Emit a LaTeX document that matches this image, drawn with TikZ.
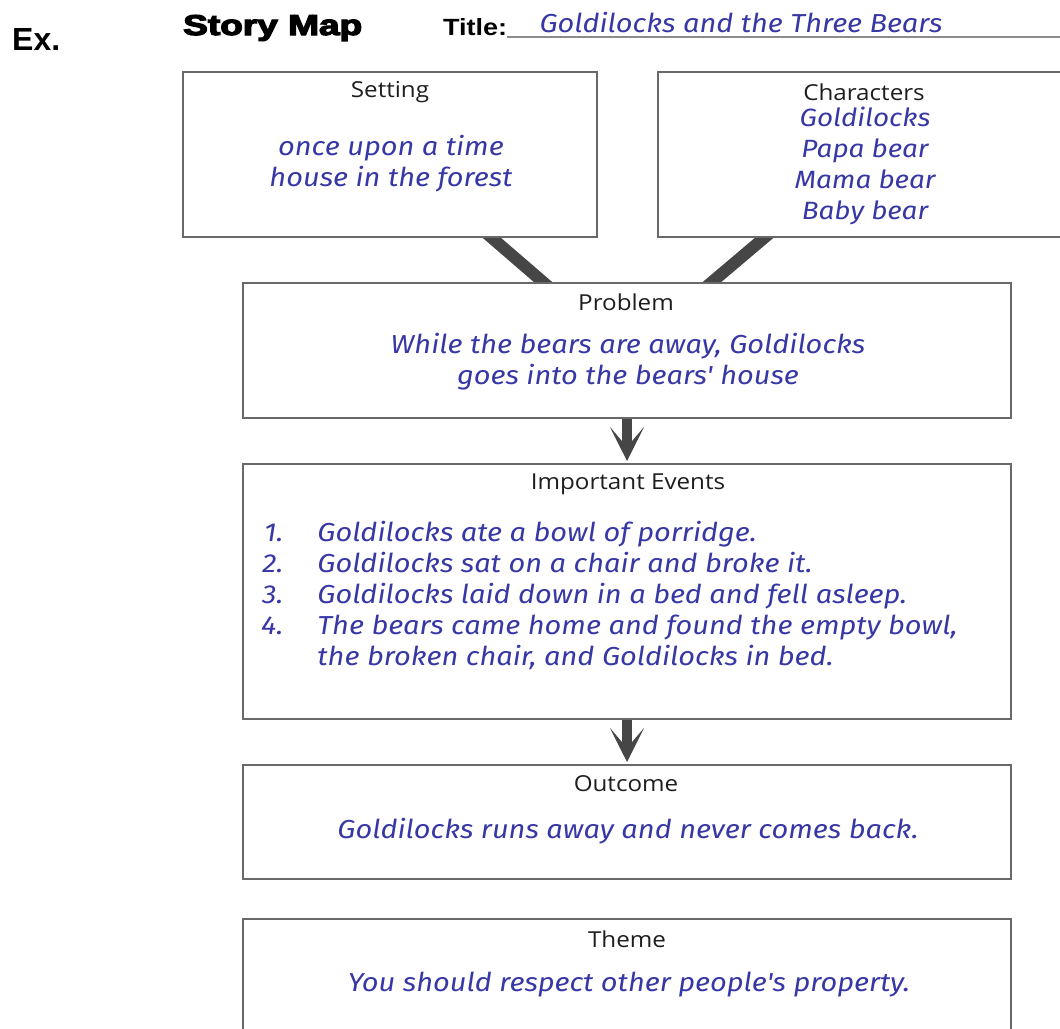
\documentclass[tikz,border=0pt]{standalone}
\usepackage{fontspec}
\usepackage{graphicx}
\setmainfont{Open Sans}
\newfontfamily\labfont{Open Sans}[FakeStretch=1.1]
\newfontfamily\handfont{Fira Sans}[FakeStretch=1.115]
\newfontfamily\arialfont{Liberation Sans}
\newfontfamily\heavyfont{Liberation Sans}[BoldFeatures={FakeBold=4}]
\usetikzlibrary{arrows.meta,calc}
\definecolor{boxline}{RGB}{105,105,105}
\definecolor{conncol}{RGB}{70,70,70}
\definecolor{handblue}{RGB}{55,55,165}
\definecolor{labelc}{RGB}{30,30,30}
\definecolor{ruleline}{RGB}{140,140,140}
\pgfdeclarelayer{bg}
\pgfsetlayers{bg,main}
\begin{document}
\begin{tikzpicture}[x=1pt,y=-1pt,
  box/.style={draw=boxline, line width=2pt, fill=white, rectangle, anchor=north west, inner sep=0pt},
  lab/.style={text=labelc, font=\labfont\fontsize{22}{26}\selectfont, inner sep=0pt},
  hand/.style={text=handblue, font=\handfont\itshape\fontsize{26}{31}\selectfont, align=center, inner sep=0pt},
  conn/.style={draw=conncol, line width=12pt},
  flow/.style={draw=conncol, line width=10pt, -{Stealth[length=34pt,width=34pt,inset=20pt]}, shorten >=2pt}]
\clip (0,0) rectangle (1060,1028);
\useasboundingbox (0,0) rectangle (1060,1028);
\begin{pgfonlayer}{bg}
\fill[white] (0,0) rectangle (1060,1028);
\end{pgfonlayer}

% header
\node[anchor=base west, inner sep=0pt] (ex) at (12,50) {\resizebox{48pt}{22pt}{\arialfont\bfseries Ex.}};
\node[anchor=base west, inner sep=0pt] (smap) at (183,35) {\resizebox{179pt}{20pt}{\heavyfont\bfseries Story Map}};
\node[anchor=base west, inner sep=0pt] (ttl) at (443,35) {\resizebox{64pt}{17pt}{\arialfont\bfseries Title:}};
\coordinate (ruleend) at (1060,37);
\draw[ruleline, line width=2.5pt] (ttl.base east |- ruleend) -- (ruleend);
\node[hand, anchor=base] (ttext) at (741,32) {Goldilocks and the Three Bears};

% boxes
\node[box, minimum width=414pt, minimum height=165pt] (setting) at (182,71) {};
\node[box, minimum width=420pt, minimum height=165pt] (characters) at (657,71) {};
\node[box, minimum width=768pt, minimum height=135pt] (problem) at (242,282) {};
\node[box, minimum width=768pt, minimum height=255pt] (events) at (242,463) {};
\node[box, minimum width=768pt, minimum height=114pt] (outcome) at (242,764) {};
\node[box, minimum width=768pt, minimum height=140pt] (theme) at (242,918) {};

% connectors
\coordinate (s1) at ([xshift=102pt]setting.south);
\coordinate (p1) at ([xshift=-84pt]problem.north);
\coordinate (c1) at ([xshift=-104pt]characters.south);
\coordinate (p2) at ([xshift=85pt]problem.north);
\begin{pgfonlayer}{bg}
\draw[conn] ($(s1)!-8pt!(p1)$) -- ($(p1)!-8pt!(s1)$);
\draw[conn] ($(c1)!-8pt!(p2)$) -- ($(p2)!-8pt!(c1)$);
\end{pgfonlayer}
\draw[flow] (problem.south) -- (events.north);
\draw[flow] (events.south) -- (outcome.north);

% labels
\node[lab] (lset) at (390,92) {Setting};
\node[lab] (lchar) at (864,92) {Characters};
\node[lab] (lprob) at (626,302) {Problem};
\node[lab] (lev) at (628,484) {Important Events};
\node[lab] (lout) at (626,784) {Outcome};
\node[lab] (lthe) at (627,939) {Theme};

% contents
\node[hand] (tset) at (391,164) {once upon a time\\house in the forest};
\node[hand, font=\handfont\itshape\fontsize{25}{31}\selectfont] (tchar) at (865,166) {Goldilocks\\Papa bear\\Mama bear\\Baby bear};
\node[hand] (tprob) at (628,362) {While the bears are away, Goldilocks\\goes into the bears' house};
\node[hand, anchor=west] (tev) at (261,597) {\begin{tabular}{@{}r@{\hspace{34pt}}l@{}}
1.&Goldilocks ate a bowl of porridge.\\
2.&Goldilocks sat on a chair and broke it.\\
3.&Goldilocks laid down in a bed and fell asleep.\\
4.&The bears came home and found the empty bowl,\\
  &the broken chair, and Goldilocks in bed.
\end{tabular}};
\node[hand] (tout) at (628,831) {Goldilocks runs away and never comes back.};
\node[hand] (tthe) at (629,985) {You should respect other people's property.};
\end{tikzpicture}
\end{document}
